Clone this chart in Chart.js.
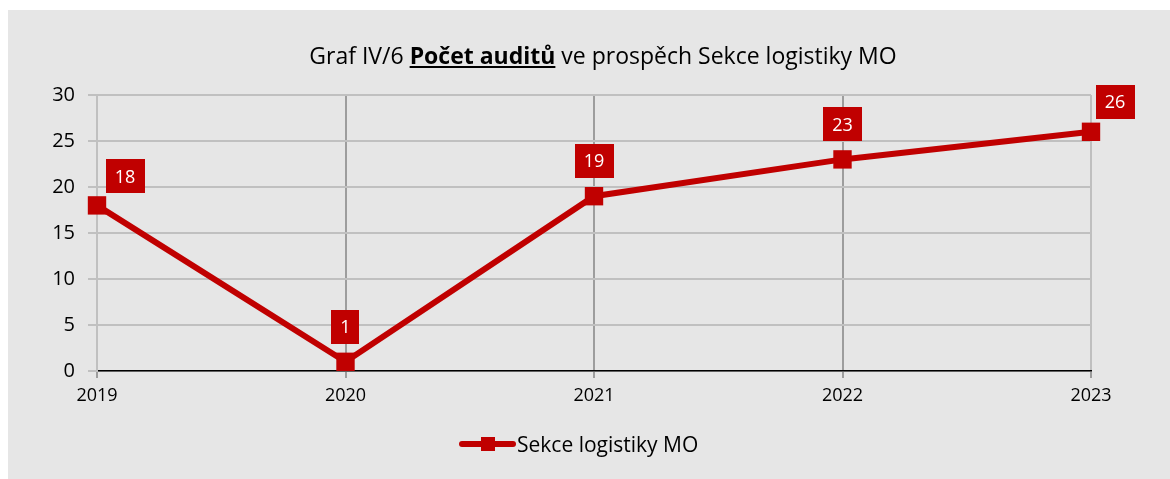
<!DOCTYPE html>
<html>
<head>
<meta charset="utf-8">
<script src="https://cdn.jsdelivr.net/npm/chart.js@4.4.1/dist/chart.umd.min.js"></script>
<style>
  body { margin: 0; background: #fff; font-family: "Open Sans", sans-serif; }
  #wrap { position: absolute; left: 8px; top: 10px; width: 1162px; height: 469px; background: #e6e6e6; }
  #graf { position: absolute; left: 0; top: 0; }
  #titulek { position: absolute; left: 0; top: 32px; width: 1190px; text-align: center; font-size: 23px; line-height: 26px; color: #000; }
  #legenda { position: absolute; left: 451px; top: 421px; font-size: 21px; line-height: 26px; color: #000; white-space: nowrap; }
  #legenda .car { display: inline-block; position: relative; width: 57px; height: 26px; vertical-align: top; margin-right: 1px; }
  #legenda .car i { position: absolute; left: 0; top: 10px; width: 57px; height: 6px; border-radius: 3px; background: #c00000; }
  #legenda .car b { position: absolute; left: 22px; top: 6px; width: 14px; height: 14px; background: #c00000; }
</style>
</head>
<body>
<div id="wrap">
  <canvas id="graf" width="1162" height="469"></canvas>
  <div id="titulek">Graf IV/6 <b><u>Počet auditů</u></b> ve prospěch Sekce logistiky MO</div>
  <div id="legenda"><span class="car"><i></i><b></b></span>Sekce logistiky MO</div>
</div>
<script>
const roky = ['2019', '2020', '2021', '2022', '2023'];
const pocetAuditu = [18, 1, 19, 23, 26];
const nazevRady = 'Sekce logistiky MO';

const cervena = '#c00000';
const pismo = '"Open Sans", sans-serif';

// popisky hodnot v cervenych obdelnicich
const popiskyPlugin = {
    id: 'popisky',
    afterDatasetsDraw(chart) {
        const ctx = chart.ctx;
        const meta = chart.getDatasetMeta(0);
        ctx.save();
        ctx.font = '18px ' + pismo;
        ctx.textAlign = 'center';
        ctx.textBaseline = 'middle';
        meta.data.forEach((bod, i) => {
            const text = String(pocetAuditu[i]);
            const sirka = ctx.measureText(text).width + 18;
            const vyska = 34;
            let dx = 0, dy = -35;
            if (i === 0) { dx = 28; dy = -29; }
            if (i === meta.data.length - 1) { dx = 24; dy = -30; }
            const cx = bod.x + dx, cy = bod.y + dy;
            ctx.fillStyle = cervena;
            ctx.fillRect(Math.round(cx - sirka / 2), Math.round(cy - vyska / 2), Math.round(sirka), vyska);
            ctx.fillStyle = '#fff';
            ctx.fillText(text, cx, cy + 1);
        });
        ctx.restore();
    }
};

const ctx = document.getElementById('graf').getContext('2d');

const graf = new Chart(ctx, {
    type: 'line',
    data: {
        labels: roky,
        datasets: [{
            label: nazevRady,
            data: pocetAuditu,
            borderColor: cervena,
            backgroundColor: cervena,
            borderWidth: 6,
            pointStyle: 'rect',
            pointRadius: 13,
            pointHoverRadius: 13,
            pointBorderWidth: 0,
            tension: 0,
            clip: false
        }]
    },
    options: {
        responsive: false,
        animation: false,
        events: [],
        layout: { padding: { left: 0, right: 79, top: 85, bottom: 0 } },
        plugins: {
            legend: { display: false },
            title: { display: false },
            tooltip: { enabled: false }
        },
        scales: {
            x: {
                offset: false,
                grid: {
                    color: (c) => (c.index === 0 || c.index === roky.length - 1) ? '#bfbfbf' : '#9d9d9d',
                    lineWidth: 2,
                    tickLength: 7,
                    tickColor: '#9d9d9d'
                },
                border: { color: '#000', width: 1.5 },
                ticks: {
                    color: '#000',
                    font: { family: pismo, size: 18 },
                    padding: 7,
                    maxRotation: 0
                },
                afterFit: (s) => { s.height = 108; }
            },
            y: {
                min: 0,
                max: 30,
                grid: {
                    color: '#c0c0c0',
                    lineWidth: 2,
                    tickLength: 9
                },
                border: { color: '#c0c0c0', width: 2 },
                ticks: {
                    stepSize: 5,
                    color: '#000',
                    font: { family: pismo, size: 20 },
                    padding: 13
                },
                afterFit: (s) => { s.width = 89; }
            }
        }
    },
    plugins: [popiskyPlugin]
});
</script>
</body>
</html>
